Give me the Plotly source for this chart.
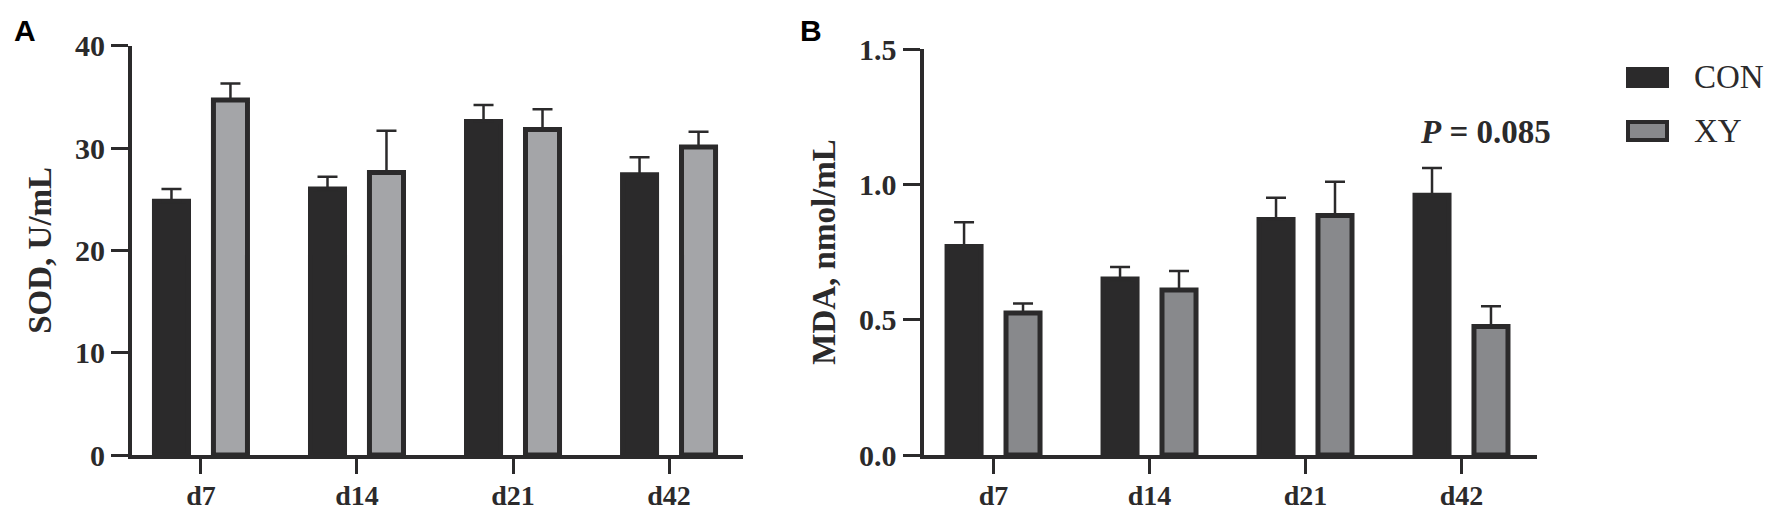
import plotly.graph_objects as go

# Data
days = ["d7", "d14", "d21", "d42"]

sod_con = [24.8, 26.0, 32.6, 27.4]
sod_con_err = [1.2, 1.2, 1.6, 1.7]
sod_xy = [34.7, 27.6, 31.8, 30.1]
sod_xy_err = [1.6, 4.1, 2.0, 1.5]

mda_con = [0.77, 0.65, 0.87, 0.96]
mda_con_err = [0.09, 0.045, 0.08, 0.10]
mda_xy = [0.525, 0.61, 0.885, 0.475]
mda_xy_err = [0.035, 0.07, 0.125, 0.075]

sod_ticks = [0, 10, 20, 30, 40]
mda_ticks = [0.0, 0.5, 1.0, 1.5]

# the page body has an 8px margin, so the figure is made that much smaller
PAGE_W, PAGE_H, BODY = 1775, 512, 8
W, H = PAGE_W - BODY, PAGE_H - BODY
DARK = "#2b2a2b"
GRAY_A = "#a4a5a8"
GRAY_B = "#88898c"
SERIF = "Liberation Serif, Times New Roman, serif"


def fx(p):
    # page pixel -> paper fraction
    return (p - BODY) / W


def fy(p):
    return 1 - (p - BODY) / H


def err(values):
    return dict(type="data", symmetric=False, array=values, arrayminus=[0] * len(values),
                color=DARK, thickness=2.5, width=10)


fig = go.Figure()

# panel A
fig.add_trace(go.Bar(x=days, y=sod_con, name="CON", marker_color=DARK,
                     marker_line=dict(color=DARK, width=5), error_y=err(sod_con_err),
                     xaxis="x", yaxis="y"))
fig.add_trace(go.Bar(x=days, y=sod_xy, name="XY", marker_color=GRAY_A,
                     marker_line=dict(color=DARK, width=5), error_y=err(sod_xy_err),
                     xaxis="x", yaxis="y"))

# panel B
fig.add_trace(go.Bar(x=days, y=mda_con, name="CON", marker_color=DARK,
                     marker_line=dict(color=DARK, width=5), error_y=err(mda_con_err),
                     xaxis="x2", yaxis="y2"))
fig.add_trace(go.Bar(x=days, y=mda_xy, name="XY", marker_color=GRAY_B,
                     marker_line=dict(color=DARK, width=5), error_y=err(mda_xy_err),
                     xaxis="x2", yaxis="y2"))

axis_common = dict(showline=True, linewidth=4, linecolor=DARK, ticks="outside",
                   ticklen=17, tickwidth=3, tickcolor=DARK, showgrid=False, zeroline=False,
                   automargin=False,
                   tickfont=dict(family=SERIF, size=30, color=DARK, weight="bold"))
x_common = dict(axis_common, ticklen=15, ticklabelstandoff=-3,
                tickfont=dict(family=SERIF, size=28, color=DARK, weight="bold"))

fig.update_layout(
    width=W, height=H,
    margin=dict(l=0, r=0, t=0, b=0, pad=0),
    showlegend=False,
    paper_bgcolor="white", plot_bgcolor="white",
    barmode="group", bargap=0.244, bargroupgap=0.423,
    xaxis=dict(domain=[fx(132), fx(743)], range=[-0.442, 3.474], anchor="y", **x_common),
    yaxis=dict(domain=[fy(455), fy(45.7)], range=[0, 40], tickvals=sod_ticks, anchor="x",
               title=dict(text="SOD, U/mL", standoff=14,
                          font=dict(family=SERIF, size=33, color=DARK, weight="bold")),
               **axis_common),
    xaxis2=dict(domain=[fx(923.5), fx(1537)], range=[-0.449, 3.484], anchor="y2", **x_common),
    yaxis2=dict(domain=[fy(455), fy(49)], range=[0, 1.5], tickvals=mda_ticks, tickformat=".1f",
                anchor="x2",
                title=dict(text="MDA, nmol/mL", standoff=14,
                           font=dict(family=SERIF, size=33, color=DARK, weight="bold")),
                **axis_common),
)

# panel letters
for letter, x in [("A", 12), ("B", 798)]:
    fig.add_annotation(text=letter, x=fx(x), y=fy(12), xref="paper", yref="paper",
                       xanchor="left", yanchor="top", showarrow=False,
                       font=dict(family="Liberation Sans, Arial, sans-serif", size=30,
                                 color="black", weight="bold"))

# p-value note
fig.add_annotation(text="<i>P</i> = 0.085", x=fx(1485), y=fy(132), xref="paper", yref="paper",
                   xanchor="center", yanchor="middle", showarrow=False,
                   font=dict(family=SERIF, size=33, color=DARK, weight="bold"))

# legend drawn by hand so the swatches are large like the original
fig.add_shape(type="rect", xref="paper", yref="paper", x0=fx(1626), x1=fx(1669),
              y0=fy(88), y1=fy(67), fillcolor=DARK, line=dict(width=0))
fig.add_shape(type="rect", xref="paper", yref="paper", x0=fx(1628), x1=fx(1667),
              y0=fy(140), y1=fy(122), fillcolor=GRAY_B, line=dict(color=DARK, width=4))
for label, y in [("CON", 77), ("XY", 131)]:
    fig.add_annotation(text=label, x=fx(1692), y=fy(y), xref="paper", yref="paper",
                       xanchor="left", yanchor="middle", showarrow=False,
                       font=dict(family=SERIF, size=33, color=DARK))

fig.write_html("out.html")
